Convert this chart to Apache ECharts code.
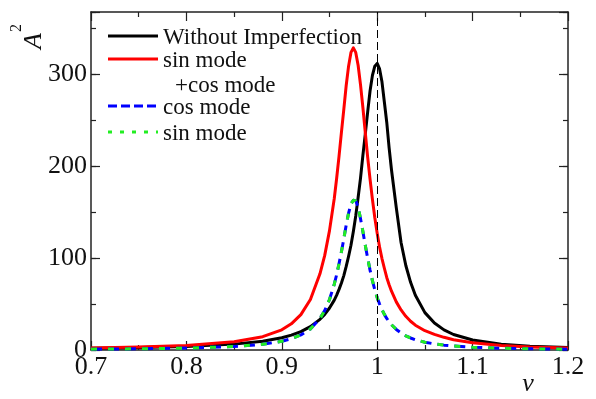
<!DOCTYPE html>
<html>
<head>
<meta charset="utf-8">
<script src="https://cdn.jsdelivr.net/npm/echarts@6/dist/echarts.min.js"></script>
<style>
html, body { margin: 0; padding: 0; background: #fff; }
#chart { width: 596px; height: 399px; }
</style>
</head>
<body>
<div id="chart"></div>
<script>
// frequency ratio nu
const nu = [0.70, 0.75, 0.80, 0.85, 0.88, 0.90, 0.91, 0.92, 0.93, 0.94,
	0.945, 0.95, 0.955, 0.9575, 0.96, 0.9625, 0.965, 0.9675, 0.97, 0.9725,
	0.975, 0.9775, 0.98, 0.9825, 0.985, 0.9875, 0.99, 0.9925, 0.995, 0.9975,
	1.00, 1.0025, 1.005, 1.0075, 1.01, 1.0125, 1.015, 1.02, 1.025, 1.03,
	1.035, 1.04, 1.05, 1.06, 1.07, 1.08, 1.10, 1.13, 1.16, 1.20]

// A^2
const withoutImperfection = [1.9, 2.6, 3.8, 6.4, 9.6, 13.4, 16.2, 20, 25.5, 33.4,
	38.8, 45.7, 54.3, 59.8, 66, 73, 81, 91, 102, 114,
	129, 146, 166, 187, 212, 235, 259, 282, 299, 309,
	312, 306, 292, 270, 248, 220, 196, 155, 117, 92,
	73.7, 59.6, 40.7, 29.3, 21.9, 16.9, 10.9, 6.4, 4.1, 2.6]
const sinCosMode = [2.3, 3.3, 5.0, 9.0, 14.5, 22, 28.5, 38.5, 55, 83,
	103, 130, 165, 187, 211, 237, 262, 288, 309, 324,
	329, 324, 310, 289, 264, 237, 210, 186, 164, 144,
	127, 112, 99.6, 89, 79, 71, 64, 52.4, 43.6, 36.7,
	31.3, 27, 21, 17, 13.8, 11.2, 8.0, 5.0, 3.4, 2.2]
const cosMode = [0.94, 1.32, 2.06, 3.76, 6.2, 9.5, 12.2, 16.4, 23, 34.3,
	43, 55, 71.6, 82, 94, 107, 121, 136, 149, 159,
	163, 162.4, 156, 143, 129, 114, 100, 87, 75.5, 65.5,
	57, 50, 44, 38.8, 34.4, 30.7, 27.5, 22.4, 18.5, 15.5,
	13.1, 11.2, 8.5, 6.6, 5.3, 4.4, 3.0, 1.9, 1.3, 0.85]
const sinMode = [0.94, 1.32, 2.06, 3.76, 6.2, 9.5, 12.2, 16.4, 23, 34.3,
	43, 55, 71.6, 82, 94, 107, 121, 136, 149, 159,
	163, 162.4, 156, 143, 129, 114, 100, 87, 75.5, 65.5,
	57, 50, 44, 38.8, 34.4, 30.7, 27.5, 22.4, 18.5, 15.5,
	13.1, 11.2, 8.5, 6.6, 5.3, 4.4, 3.0, 1.9, 1.3, 0.85]

const xTicks = [0.7, 0.8, 0.9, 1, 1.1, 1.2]
const yTicks = [0, 100, 200, 300]
const resonanceLine = [1]

const serif = 'Liberation Serif'
const frame = '#222'
const pairs = (ys) => nu.map((x, i) => [x, ys[i]])

const chart = echarts.init(document.getElementById('chart'), null, { renderer: 'canvas' })

function xAxisDef(position, showLabel) {
	return {
		type: 'value',
		position: position,
		min: xTicks[0],
		max: xTicks[xTicks.length - 1],
		interval: 0.1,
		axisLine: { show: true, onZero: false, lineStyle: { color: frame, width: 1.5 } },
		axisTick: { show: true, inside: true, length: 9, lineStyle: { color: frame, width: 1.2 } },
		minorTick: { show: true, splitNumber: 2, length: 5, lineStyle: { color: frame, width: 1.2 } },
		axisLabel: {
			show: showLabel,
			margin: 4,
			fontFamily: serif,
			fontSize: 26,
			color: '#111',
			formatter: (v) => String(+v.toFixed(1))
		},
		splitLine: { show: false },
		minorSplitLine: { show: false }
	}
}

function yAxisDef(position, interval, tickLen, showLabel, showLine) {
	return {
		type: 'value',
		position: position,
		min: 0,
		max: 368,
		interval: interval,
		axisLine: { show: showLine, onZero: false, lineStyle: { color: frame, width: 1.5 } },
		axisTick: { show: true, inside: true, length: tickLen, lineStyle: { color: frame, width: 1.2 } },
		axisLabel: {
			show: showLabel,
			margin: 4,
			fontFamily: serif,
			fontSize: 26,
			color: '#111',
			formatter: (v) => (yTicks.indexOf(v) >= 0 ? String(v) : '')
		},
		splitLine: { show: false }
	}
}

const legendRows = [
	{ y: 36, color: '#000', type: 'solid', text: 'Without Imperfection' },
	{ y: 59, color: '#ff0000', type: 'solid', text: 'sin mode' },
	{ y: 106, color: '#0000ff', type: [9, 4], text: 'cos mode' },
	{ y: 132, color: '#22ee22', type: [4, 8], text: 'sin mode' }
]

const legendFont = '23px "Liberation Serif"'
const graphics = []
legendRows.forEach((r) => {
	graphics.push({
		type: 'line',
		shape: { x1: 108, y1: r.y, x2: 158, y2: r.y },
		style: { stroke: r.color, lineWidth: 3, lineDash: r.type === 'solid' ? null : r.type }
	})
	graphics.push({
		type: 'text',
		x: 163,
		y: r.y + 2,
		style: { text: r.text, font: legendFont, fill: '#111', textVerticalAlign: 'middle' }
	})
})
graphics.push({
	type: 'text',
	x: 175,
	y: 86,
	style: { text: '+cos mode', font: legendFont, fill: '#111', textVerticalAlign: 'middle' }
})
// axis names
graphics.push({
	type: 'text',
	x: 34,
	y: 41,
	rotation: Math.PI / 2,
	style: { text: 'A', font: 'italic 26px "Liberation Serif"', fill: '#111', textAlign: 'center', textVerticalAlign: 'middle' }
})
graphics.push({
	type: 'text',
	x: 17,
	y: 28,
	rotation: Math.PI / 2,
	style: { text: '2', font: '16px "Liberation Serif"', fill: '#111', textAlign: 'center', textVerticalAlign: 'middle' }
})
graphics.push({
	type: 'text',
	x: 528,
	y: 384,
	style: { text: 'ν', font: 'italic 26px "Liberation Serif"', fill: '#111', textAlign: 'center', textVerticalAlign: 'middle' }
})

const lineSeries = (name, ys, color, type) => ({
	name: name,
	type: 'line',
	data: pairs(ys),
	xAxisIndex: 0,
	yAxisIndex: 0,
	symbol: 'none',
	smooth: false,
	lineStyle: { color: color, width: 3, type: type, join: 'round' },
	itemStyle: { color: color },
	z: 3
})

const blackSeries = lineSeries('Without Imperfection', withoutImperfection, '#000', 'solid')
blackSeries.markLine = {
	silent: true,
	symbol: ['none', 'none'],
	label: { show: false },
	lineStyle: { color: '#000', width: 1, type: [8, 4] },
	data: resonanceLine.map((v) => ({ xAxis: v }))
}

chart.setOption({
	animation: false,
	backgroundColor: '#fff',
	grid: { left: 91, right: 28, top: 12, bottom: 49 },
	xAxis: [xAxisDef('bottom', true), xAxisDef('top', false)],
	yAxis: [
		yAxisDef('left', 100, 9, true, true),
		yAxisDef('left', 50, 5, false, false),
		yAxisDef('right', 100, 9, false, true),
		yAxisDef('right', 50, 5, false, false)
	],
	graphic: graphics,
	series: [
		blackSeries,
		lineSeries('sin mode +cos mode', sinCosMode, '#ff0000', 'solid'),
		lineSeries('cos mode', cosMode, '#0000ff', [11, 6]),
		lineSeries('sin mode', sinMode, '#22ee22', [6, 11])
	]
})
</script>
</body>
</html>
